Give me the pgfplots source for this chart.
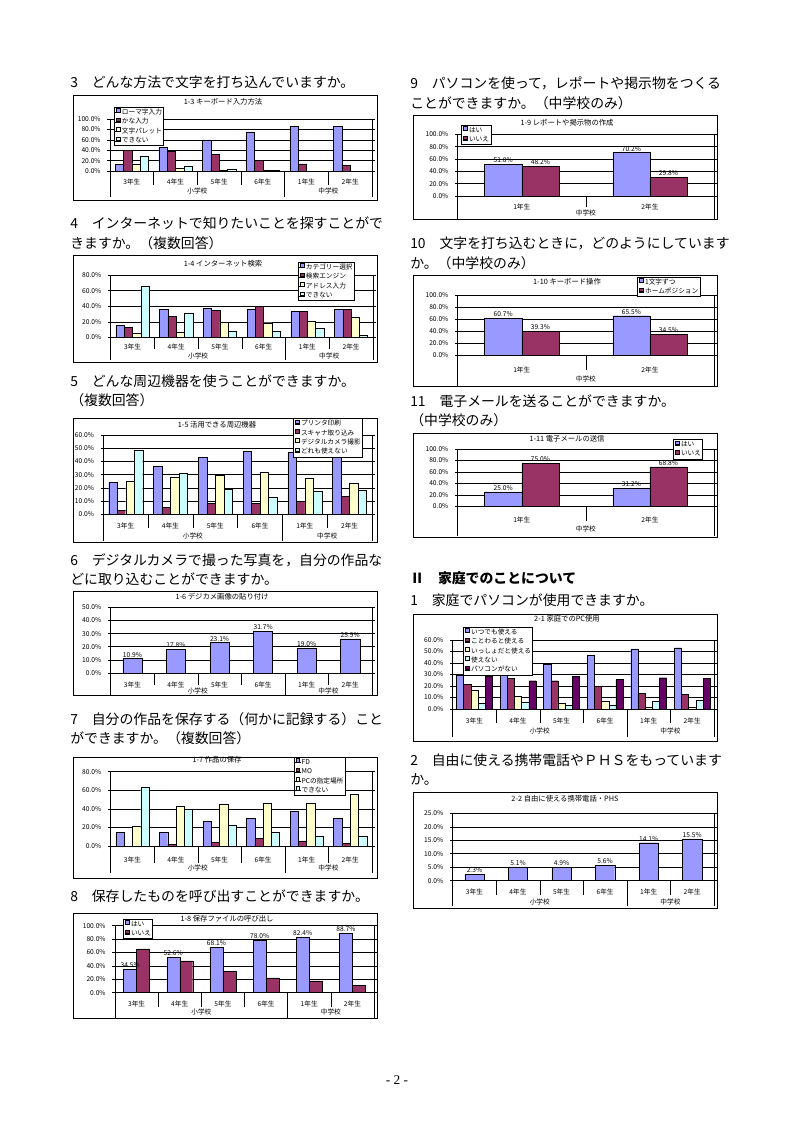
\documentclass[border=0pt]{standalone}
\usepackage{pgfplots}
\pgfplotsset{compat=1.18}
\usepackage{fontspec}
\setmainfont{Noto Sans CJK JP}
\newfontfamily\seriffont{Liberation Serif}
\definecolor{c1}{HTML}{9999FF}
\definecolor{c2}{HTML}{993366}
\definecolor{c3}{HTML}{FFFFCC}
\definecolor{c4}{HTML}{CCFFFF}
\definecolor{c5}{HTML}{660066}
\newcommand{\cf}{\fontsize{5}{6}\selectfont}
\newcommand{\tf}{\fontsize{5.5}{6.5}\selectfont}
\newcommand{\hf}{\fontsize{10.4}{12}\selectfont}
\pgfplotsset{
  /pgf/number format/assume math mode=true,
  sqlegend/.style={legend image code/.code={\path (0pt,0pt) -- (4.2pt,0pt);\draw[##1,line width=0.3pt] (0.6pt,0.3pt) rectangle (3.3pt,3pt);}},
  xls/.style={
    scale only axis, anchor=south west, ybar=0pt, ymin=0, clip=false,
    axis line style={line width=0.5pt},
    ymajorgrids, grid style={line width=0.4pt, black},
    tick align=outside, major tick length=2pt,
    xtick style={draw=none}, ytick style={line width=0.4pt, black},
    ticklabel style={font=\cf},
    yticklabel={\pgfmathprintnumber[fixed,fixed zerofill,precision=1]{\tick}\%},
    yticklabel style={xshift=-1.5pt},
    xticklabel style={anchor=center},
    legend style={font=\cf, draw=black, line width=0.4pt, fill=white, inner sep=0.8pt, anchor=north west, row sep=1.1pt,
      nodes={inner sep=0.5pt, text height=3.7pt, text depth=0.9pt}},
    legend cell align=left,
    every axis plot post/.append style={sqlegend},
    every axis plot/.append style={draw=black, line width=0.3pt},
    every node near coord/.append style={font=\cf, inner sep=1pt, black},
  },
  six/.style={xmin=-0.5, xmax=5.5, xtick={0,...,5}, xticklabels={3年生,4年生,5年生,6年生,1年生,2年生}},
  two/.style={xmin=-0.5, xmax=1.5, xtick={0,1}, xticklabels={1年生,2年生}},
  pct/.style={nodes near coords={\pgfmathprintnumber[fixed,fixed zerofill,precision=1]{\pgfplotspointmeta}\%}},
}
\newcommand{\sixdeco}[3]{%
  \draw[line width=0.4pt] (axis cs:-0.5,0) -- ++(0pt,-#2pt);
  \draw[line width=0.4pt] (axis cs:0.5,0) -- ++(0pt,-#1pt);
  \draw[line width=0.4pt] (axis cs:1.5,0) -- ++(0pt,-#1pt);
  \draw[line width=0.4pt] (axis cs:2.5,0) -- ++(0pt,-#1pt);
  \draw[line width=0.4pt] (axis cs:3.5,0) -- ++(0pt,-#2pt);
  \draw[line width=0.4pt] (axis cs:4.5,0) -- ++(0pt,-#1pt);
  \draw[line width=0.4pt] (axis cs:5.5,0) -- ++(0pt,-#2pt);
  \node[font=\cf, inner sep=0pt] at ([yshift=-#3pt]axis cs:1.5,0) {小学校};
  \node[font=\cf, inner sep=0pt] at ([yshift=-#3pt]axis cs:4.5,0) {中学校};
}
\newcommand{\twodeco}[3]{%
  \draw[line width=0.4pt] (axis cs:-0.5,0) -- ++(0pt,-#2pt);
  \draw[line width=0.4pt] (axis cs:0.5,0) -- ++(0pt,-#1pt);
  \draw[line width=0.4pt] (axis cs:1.5,0) -- ++(0pt,-#2pt);
  \node[font=\cf, inner sep=0pt] at ([yshift=-#3pt]axis cs:0.5,0) {中学校};
}
\begin{document}
\begin{tikzpicture}
\begin{scope}[x=0.75pt,y=-0.75pt]
\path[use as bounding box, fill=white] (0,0) rectangle (794,1123);
% headings
\begin{scope}[every node/.style={anchor=west, inner sep=0pt, font=\hf}]
\node at (70,82) {3　どんな方法で文字を打ち込んでいますか。};
\node at (70,223) {4　インターネットで知りたいことを探すことがで};
\node at (70,243) {きますか。（複数回答）};
\node at (70,381) {5　どんな周辺機器を使うことができますか。};
\node at (70,400) {（複数回答）};
\node at (70,560) {6　デジタルカメラで撮った写真を，自分の作品な};
\node at (70,579) {どに取り込むことができますか。};
\node at (70,719) {7　自分の作品を保存する（何かに記録する）こと};
\node at (70,738) {ができますか。（複数回答）};
\node at (70,896) {8　保存したものを呼び出すことができますか。};
\node at (410,83) {9　パソコンを使って，レポートや掲示物をつくる};
\node at (410,103) {ことができますか。（中学校のみ）};
\node at (410,243) {10　文字を打ち込むときに，どのようにしています};
\node at (410,263) {か。（中学校のみ）};
\node at (410,401) {11　電子メールを送ることができますか。};
\node at (410,420) {（中学校のみ）};
\node[font=\hf\bfseries] at (410,578) {Ⅱ　家庭でのことについて};
\node at (410,600) {1　家庭でパソコンが使用できますか。};
\node at (410,760) {2　自由に使える携帯電話やＰＨＳをもっています};
\node at (410,779) {か。};
\end{scope}
\node[font=\seriffont\fontsize{10}{12}\selectfont] at (397,1080) {- 2 -};
% frames
\begin{scope}[line width=0.6pt]
\draw (73,95) rectangle (377,200);
\draw (73,255) rectangle (377,362);
\draw (73,418) rectangle (377,542);
\draw (73,591) rectangle (377,695);
\draw (73,757) rectangle (377,878);
\draw (73,913) rectangle (377,1018);
\draw (413,115) rectangle (717,219);
\draw (413,275) rectangle (717,386);
\draw (413,433) rectangle (717,537);
\draw (413,614) rectangle (717,741);
\draw (413,792) rectangle (717,908);
\end{scope}
% titles
\begin{scope}[every node/.style={font=\tf, inner sep=0pt}]
\node at (223,102) {1-3 キーボード入力方法};
\node at (223,264) {1-4 インターネット検索};
\node at (217,425) {1-5 活用できる周辺機器};
\node at (222,597) {1-6 デジカメ画像の貼り付け};
\node at (217,760) {1-7 作品の保存};
\node at (227,919) {1-8 保存ファイルの呼び出し};
\node at (567,123) {1-9 レポートや掲示物の作成};
\node at (567,282) {1-10 キーボード操作};
\node at (567,439) {1-11 電子メールの送信};
\node at (567,619) {2-1 家庭でのPC使用};
\node at (565,799) {2-2 自由に使える携帯電話・PHS};
\end{scope}
\end{scope}

% 1-3
\begin{axis}[xls, six, at={(82.5pt,-128.25pt)}, width=196.5pt, height=39pt, ymax=100, ytick={0,20,...,100},
  xticklabel style={yshift=-6pt}, bar width=0.19, legend style={at={(0.015,1.23)}}]
\addplot[fill=c1] coordinates {(0,12.8) (1,45.5) (2,60) (3,75) (4,86) (5,86)};
\addplot[fill=c2] coordinates {(0,39.7) (1,38.5) (2,32) (3,20.5) (4,13.5) (5,11)};
\addplot[fill=c3] coordinates {(0,14) (1,5) (2,2) (3,1.3)};
\addplot[fill=c4] coordinates {(0,28) (1,9) (2,3) (3,1.3)};
\legend{ローマ字入力,かな入力,文字パレット,できない}
\sixdeco{10.5}{19.5}{15}
\end{axis}

% 1-4
\begin{axis}[xls, six, at={(83pt,-253pt)}, width=196.7pt, height=46.7pt, ymax=80, ytick={0,20,...,80},
  xticklabel style={yshift=-5.2pt}, bar width=0.19, legend style={at={(0.714,1.21)}}]
\addplot[fill=c1] coordinates {(0,15.4) (1,36) (2,37.2) (3,36) (4,33.8) (5,36)};
\addplot[fill=c2] coordinates {(0,12.8) (1,27) (2,34.7) (3,39.4) (4,33.8) (5,36)};
\addplot[fill=c3] coordinates {(0,5) (1,6.4) (2,19.7) (3,18.8) (4,21) (5,25.7)};
\addplot[fill=c4] coordinates {(0,66) (1,31) (2,8.1) (3,8.1) (4,11.6) (5,3)};
\legend{カテゴリー選択,検索エンジン,アドレス入力,できない}
\sixdeco{8.5}{17.2}{14.2}
\end{axis}

% 1-5
\begin{axis}[xls, six, at={(77.5pt,-385.7pt)}, width=201.5pt, height=59.5pt, ymax=60, ytick={0,10,...,60},
  xticklabel style={yshift=-6.7pt}, bar width=0.19, legend style={at={(0.706,1.21)}}]
\addplot[fill=c1] coordinates {(0,24) (1,36) (2,43) (3,47.4) (4,47) (5,44.4)};
\addplot[fill=c2] coordinates {(0,2.8) (1,5) (2,8.3) (3,8.3) (4,9.6) (5,13.6)};
\addplot[fill=c3] coordinates {(0,24.7) (1,28) (2,29.7) (3,31.5) (4,27.2) (5,23.2)};
\addplot[fill=c4] coordinates {(0,48.4) (1,31) (2,19) (3,12.6) (4,17.2) (5,17.9)};
\legend{プリンタ印刷,スキャナ取り込み,デジタルカメラ撮影,どれも使えない}
\sixdeco{10.5}{20.2}{16.5}
\end{axis}

% 1-6
\begin{axis}[xls, six, at={(83pt,-504.75pt)}, width=196pt, height=49.3pt, ymax=50, ytick={0,10,...,50},
  xticklabel style={yshift=-6.7pt}, bar width=0.44]
\addplot[fill=c1, pct] coordinates {(0,10.9) (1,17.8) (2,23.1) (3,31.7) (4,19.0) (5,25.9)};
\sixdeco{9}{16.5}{13.5}
\end{axis}

% 1-7
\begin{axis}[xls, six, at={(83pt,-634.5pt)}, width=196pt, height=55.7pt, ymax=80, ytick={0,20,...,80},
  xticklabel style={yshift=-8.2pt}, bar width=0.19, legend style={at={(0.70,1.20)}}]
\addplot[fill=c1] coordinates {(0,14.7) (1,14.7) (2,26.9) (3,30.1) (4,37.3) (5,30.1)};
\addplot[fill=c2] coordinates {(1,2.1) (2,3.9) (3,8.2) (4,5.4) (5,3.2)};
\addplot[fill=c3] coordinates {(0,21.5) (1,43) (2,44.8) (3,45.9) (4,45.9) (5,55.9)};
\addplot[fill=c4] coordinates {(0,63) (1,39.4) (2,22.6) (3,14.7) (4,10.8) (5,10.8)};
\legend{FD,MO,PCの指定場所,できない}
\sixdeco{12.7}{20.2}{16.5}
\end{axis}

% 1-8
\begin{axis}[xls, six, at={(86.25pt,-744.5pt)}, width=194.25pt, height=50.25pt, ymax=100, ytick={0,20,...,100},
  xticklabel style={yshift=-6.2pt}, bar width=0.3, legend style={at={(0.031,1.10)}}]
\addplot[fill=c1, pct] coordinates {(0,34.5) (1,52.6) (2,68.1) (3,78.0) (4,82.4) (5,88.7)};
\addplot[fill=c2] coordinates {(0,65.5) (1,47.4) (2,31.9) (3,22.0) (4,17.6) (5,11.3)};
\legend{はい,いいえ}
\sixdeco{10.5}{18.7}{14.5}
\end{axis}

% 1-9
\begin{axis}[xls, two, at={(343.3pt,-147pt)}, width=192.2pt, height=46.3pt, ymax=100, ytick={0,20,...,100},
  xticklabel style={yshift=-6pt}, bar width=0.29, legend style={at={(0.013,1.15)}}]
\addplot[fill=c1, pct] coordinates {(0,51.8) (1,70.2)};
\addplot[fill=c2, pct] coordinates {(0,48.2) (1,29.8)};
\legend{はい,いいえ}
\twodeco{8.2}{17.2}{12.7}
\end{axis}

% 1-10
\begin{axis}[xls, two, at={(343.3pt,-266.25pt)}, width=192.2pt, height=45pt, ymax=100, ytick={0,20,...,100},
  xticklabel style={yshift=-9pt}, bar width=0.29, legend style={at={(0.70,1.30)}}]
\addplot[fill=c1, pct] coordinates {(0,60.7) (1,65.5)};
\addplot[fill=c2, pct] coordinates {(0,39.3) (1,34.5)};
\legend{1文字ずつ,ホームポジション}
\twodeco{11.2}{23.2}{18}
\end{axis}

% 1-11
\begin{axis}[xls, two, at={(343.3pt,-379.7pt)}, width=192.2pt, height=43pt, ymax=100, ytick={0,20,...,100},
  xticklabel style={yshift=-8pt}, bar width=0.29, legend style={at={(0.84,1.17)}}]
\addplot[fill=c1, pct] coordinates {(0,25.0) (1,31.2)};
\addplot[fill=c2, pct] coordinates {(0,75.0) (1,68.8)};
\legend{はい,いいえ}
\twodeco{10.8}{22.5}{17}
\end{axis}

% 2-1
\begin{axis}[xls, six, at={(339.5pt,-531.75pt)}, width=196pt, height=51.75pt, ymax=60, ytick={0,10,...,60},
  xticklabel style={yshift=-6.7pt}, bar width=0.165, legend style={at={(0.04,1.19)}}]
\addplot[fill=c1] coordinates {(0,29.6) (1,31.9) (2,38.8) (3,46.4) (4,52.2) (5,53.3)};
\addplot[fill=c2] coordinates {(0,21.4) (1,26.7) (2,24.6) (3,20) (4,13.6) (5,12.5)};
\addplot[fill=c3] coordinates {(0,16.5) (1,11) (2,4.9) (3,6.7) (4,1.4) (5,1.4)};
\addplot[fill=c4] coordinates {(0,4.9) (1,5.5) (2,3.2) (3,3.2) (4,6.7) (5,7.5)};
\addplot[fill=c5] coordinates {(0,28.1) (1,24.6) (2,28.1) (3,25.5) (4,27.2) (5,26.7)};
\legend{いつでも使える,ことわると使える,いっしょだと使える,使えない,パソコンがない}
\sixdeco{10.5}{21}{16.5}
\end{axis}

% 2-2
\begin{axis}[xls, six, at={(339.5pt,-660.5pt)}, width=196pt, height=50.5pt, ymax=25, ytick={0,5,...,25},
  xticklabel style={yshift=-6.2pt}, bar width=0.44]
\addplot[fill=c1, pct] coordinates {(0,2.3) (1,5.1) (2,4.9) (3,5.6) (4,14.1) (5,15.5)};
\sixdeco{10.7}{18.7}{16}
\end{axis}
\end{tikzpicture}
\end{document}
